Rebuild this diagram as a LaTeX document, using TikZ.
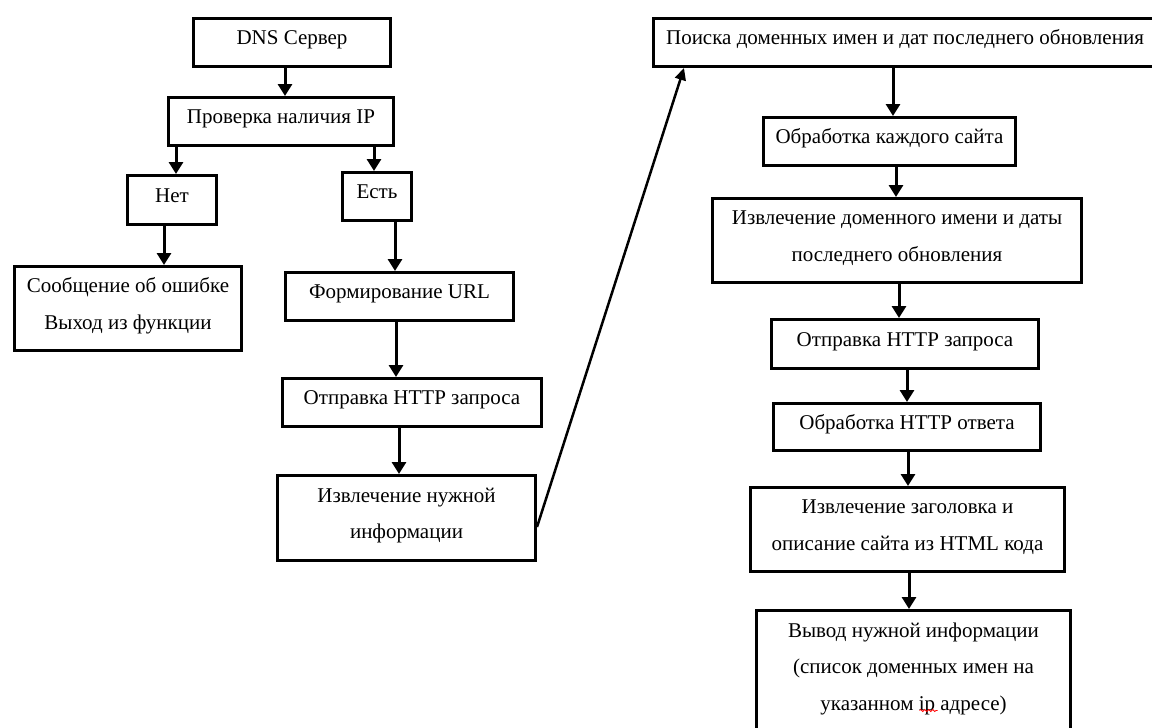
\documentclass[tikz,border=0pt]{standalone}
\usepackage{fontspec}
\setmainfont{Liberation Serif}
\usetikzlibrary{arrows.meta,decorations.pathmorphing}
\newcommand\bxt[1]{\raisebox{5pt}[\height][\depth]{\begin{tabular}{@{}c@{}}#1\end{tabular}}}
\begin{document}
\begin{tikzpicture}[x=1pt,y=-1pt,
  box/.style={draw, line width=3pt, rectangle, inner sep=0pt,
    font=\fontsize{21}{36.5}\selectfont},
  arr/.style={line width=3pt, -{Triangle[width=14pt,length=12pt]}},
  diag/.style={line width=2.5pt, -{Triangle[width=11pt,length=12pt]}}]
\clip (0,0) rectangle (1152,728);
\fill[white] (0,0) rectangle (1152,728);
% left column
\node[box, minimum width=197pt, minimum height=48pt] (dns) at (292,42.5) {\bxt{DNS Сервер}};
\node[box, minimum width=225pt, minimum height=48pt] (chk) at (281,121.5) {\bxt{Проверка наличия IP}};
\node[box, minimum width=89pt, minimum height=49pt] (no) at (172,200) {\bxt{Нет}};
\node[box, minimum width=69pt, minimum height=48pt] (yes) at (377,196.5) {\bxt{Есть}};
\node[box, minimum width=227pt, minimum height=84pt] (err) at (128,308.5) {\bxt{Сообщение об ошибке\\Выход из функции}};
\node[box, minimum width=228pt, minimum height=48pt] (url) at (399.5,296.5) {\bxt{Формирование URL}};
\node[box, minimum width=259pt, minimum height=48pt] (send1) at (412,402.5) {\bxt{Отправка HTTP запроса}};
\node[box, minimum width=258pt, minimum height=85pt] (ext1) at (406.5,518) {\bxt{Извлечение нужной\\информации}};
% right column
\node[box, minimum width=503pt, minimum height=48pt] (search) at (905,42.5) {\bxt{Поиска доменных имен и дат последнего обновления}};
\node[box, minimum width=252pt, minimum height=48pt] (each) at (889.5,141.5) {\bxt{Обработка каждого сайта}};
\node[box, minimum width=369pt, minimum height=84pt] (extdom) at (897,240.5) {\bxt{Извлечение доменного имени и даты\\последнего обновления}};
\node[box, minimum width=267pt, minimum height=49pt] (send2) at (905,344) {\bxt{Отправка HTTP запроса}};
\node[box, minimum width=267pt, minimum height=47pt] (resp) at (907,427) {\bxt{Обработка HTTP ответа}};
\node[box, minimum width=314pt, minimum height=84pt] (title) at (907.5,529.5) {\bxt{Извлечение заголовка и\\описание сайта из HTML кода}};
\node[box, minimum width=314pt, minimum height=122pt] (out) at (913.5,671.5) {\bxt{Вывод нужной информации\\(список доменных имен на\\указанном ip адресе)}};
% connectors left
\draw[arr] ([xshift=-7pt]dns.south) -- ([xshift=-7pt]dns.south |- chk.north);
\draw[arr] ([xshift=4pt]no.north |- chk.south) -- ([xshift=4pt]no.north);
\draw[arr] ([xshift=-3pt]yes.north |- chk.south) -- ([xshift=-3pt]yes.north);
\draw[arr] ([xshift=-8pt]no.south) -- ([xshift=-8pt]no.south |- err.north);
\draw[arr] ([xshift=-4.5pt]url.north |- yes.south) -- ([xshift=-4.5pt]url.north);
\draw[arr] ([xshift=-3.5pt]url.south) -- ([xshift=-3.5pt]url.south |- send1.north);
\draw[arr] ([xshift=-7.5pt]ext1.north |- send1.south) -- ([xshift=-7.5pt]ext1.north);
\draw[diag] ([yshift=-9pt]ext1.east) -- ([xshift=32pt]search.south west);
% connectors right
\draw[arr] ([xshift=3.5pt]each.north |- search.south) -- ([xshift=3.5pt]each.north);
\draw[arr] ([xshift=6.5pt]each.south) -- ([xshift=6.5pt]each.south |- extdom.north);
\draw[arr] ([xshift=2pt]extdom.south) -- ([xshift=2pt]extdom.south |- send2.north);
\draw[arr] ([xshift=2pt]send2.south) -- ([xshift=2pt]send2.south |- resp.north);
\draw[arr] ([xshift=1pt]resp.south) -- ([xshift=1pt]resp.south |- title.north);
\draw[arr] ([xshift=1.5pt]title.south) -- ([xshift=1.5pt]title.south |- out.north);
% spell-check underline
\draw[red, line width=0.8pt, decorate, decoration={snake, amplitude=1pt, segment length=4pt}]
  ([xshift=6pt,yshift=-39pt]out.center) -- ([xshift=24pt,yshift=-39pt]out.center);
\end{tikzpicture}
\end{document}
